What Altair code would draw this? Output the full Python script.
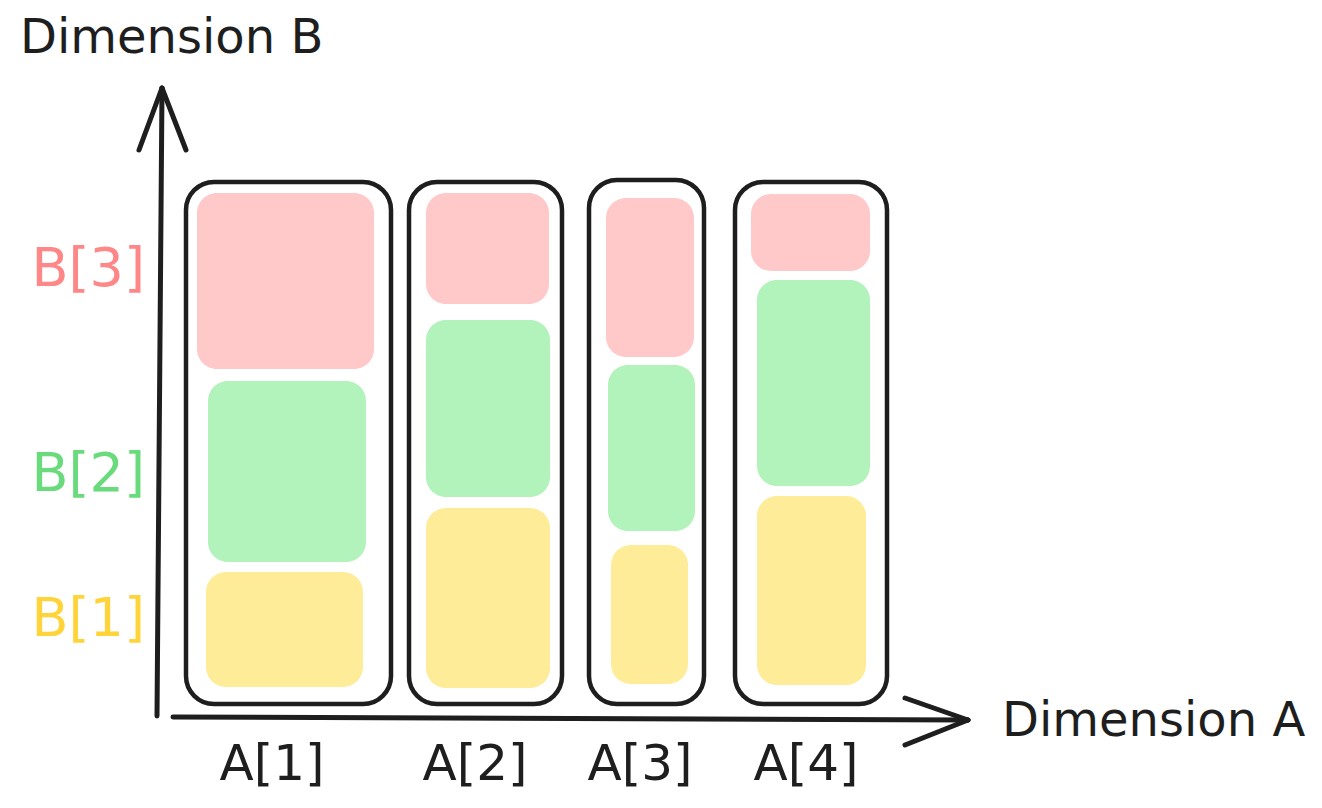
import altair as alt
import pandas as pd

# ---- data (units: 1 unit = one tenth of the drawing grid, origin at the axes corner)
columns = ["A[1]", "A[2]", "A[3]", "A[4]"]
col_left = [2.9, 25.2, 43.2, 57.8]
col_right = [23.4, 40.5, 54.7, 73.0]
col_bottom = [1.2, 1.2, 1.2, 1.2]
col_top = [53.4, 53.4, 53.6, 53.4]

levels = ["B[1]", "B[2]", "B[3]"]
seg_x0 = {"B[1]": [4.9, 26.9, 45.4, 60.0], "B[2]": [5.1, 26.9, 45.1, 60.0], "B[3]": [4.0, 26.9, 44.9, 59.4]}
seg_x1 = {"B[1]": [20.6, 39.3, 53.1, 70.9], "B[2]": [20.9, 39.3, 53.8, 71.3], "B[3]": [21.7, 39.2, 53.7, 71.3]}
seg_y0 = {"B[1]": [2.9, 2.8, 3.2, 3.1], "B[2]": [15.4, 21.9, 18.5, 23.0], "B[3]": [34.7, 41.2, 35.9, 44.5]}
seg_y1 = {"B[1]": [14.4, 20.8, 17.1, 22.0], "B[2]": [33.5, 39.6, 35.1, 43.6], "B[3]": [52.3, 52.3, 51.8, 52.2]}

fill_colors = ["#ffec99", "#b2f2bb", "#ffc9c9"]
label_colors = ["#ffd43b", "#69db7c", "#ff8787"]

b_label_y = [9.6, 24.1, 44.6]
a_label_x = [11.5, 31.8, 48.3, 64.9]

x_domain = [-14.9, 115.7]
y_domain = [-8.4, 70.8]
INK = "#1e1e1e"
FONT = "DejaVu Sans"

# ---- tables
outline_df = pd.DataFrame({"col": columns, "x0": col_left, "x1": col_right,
                           "y0": col_bottom, "y1": col_top})
seg_rows = []
for lv in levels:
    for i, c in enumerate(columns):
        seg_rows.append({"col": c, "level": lv, "x0": seg_x0[lv][i], "x1": seg_x1[lv][i],
                         "y0": seg_y0[lv][i], "y1": seg_y1[lv][i]})
seg_df = pd.DataFrame(seg_rows)

axis_df = pd.DataFrame({
    "x0": [0.0, 0.5, 0.5, 1.6, 81.1, 81.1],
    "y0": [0.0, 62.8, 62.8, -0.1, -0.4, -0.4],
    "x1": [0.5, -1.8, 2.9, 81.1, 74.8, 74.8],
    "y1": [62.8, 56.6, 56.6, -0.4, 1.8, -2.9],
})

blab_df = pd.DataFrame({"text": levels, "x": [-1.2] * 3, "y": b_label_y, "c": label_colors})
alab_df = pd.DataFrame({"text": columns, "x": a_label_x, "y": [-4.9] * 4})
title_df = pd.DataFrame({"text": ["Dimension B", "Dimension A"], "x": [-13.7, 84.5], "y": [67.7, -0.6]})

xs = alt.Scale(domain=x_domain, nice=False, zero=False)
ys = alt.Scale(domain=y_domain, nice=False, zero=False)
X = lambda f: alt.X(f, type="quantitative", scale=xs, axis=None)
Y = lambda f: alt.Y(f, type="quantitative", scale=ys, axis=None)

outlines = alt.Chart(outline_df).mark_rect(
    cornerRadius=28, fill="white", stroke=INK, strokeWidth=4.5
).encode(x=X("x0"), x2="x1", y=Y("y0"), y2="y1")

segments = alt.Chart(seg_df).mark_rect(cornerRadius=20).encode(
    x=X("x0"), x2="x1", y=Y("y0"), y2="y1",
    color=alt.Color("level:N", scale=alt.Scale(domain=levels, range=fill_colors), legend=None),
)

axes = alt.Chart(axis_df).mark_rule(color=INK, strokeWidth=5, strokeCap="round").encode(
    x=X("x0"), x2="x1", y=Y("y0"), y2="y1"
)

blabels = alt.Chart(blab_df).mark_text(
    font=FONT, fontSize=54, align="right", baseline="middle"
).encode(x=X("x"), y=Y("y"), text="text:N", color=alt.Color("c:N", scale=None))

alabels = alt.Chart(alab_df).mark_text(
    font=FONT, fontSize=50, align="center", baseline="middle", color=INK
).encode(x=X("x"), y=Y("y"), text="text:N")

titles = alt.Chart(title_df).mark_text(
    font=FONT, fontSize=48, align="left", baseline="middle", color=INK
).encode(x=X("x"), y=Y("y"), text="text:N")

chart = alt.layer(outlines, segments, axes, blabels, alabels, titles).properties(
    width=1306, height=792, padding=0,
    autosize=alt.AutoSizeParams(type="none"),
    background="white",
).configure_view(stroke=None)

chart.save("out.html", embed_options={"renderer": "svg", "actions": False})
